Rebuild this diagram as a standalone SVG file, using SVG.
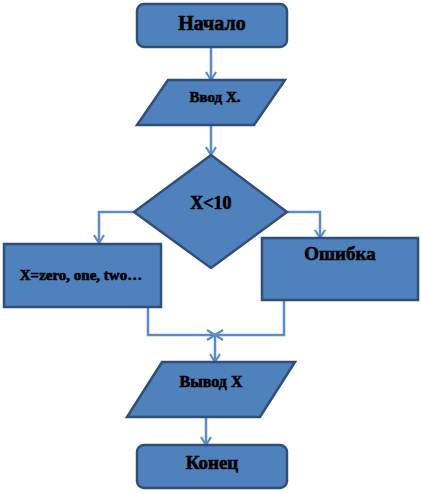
<svg xmlns="http://www.w3.org/2000/svg" width="421" height="493" viewBox="0 0 421 493">
<defs>
<style>
.node{fill:#4F81BD;stroke:#2F4F78;stroke-width:2.5}
.t{font-family:"Liberation Serif","Times New Roman",serif;font-weight:bold;fill:#000;stroke:#000;stroke-width:0.6;text-anchor:middle}
.c{fill:none;stroke:#5B8BC9;stroke-width:2.5}
</style>
<marker id="a" markerUnits="userSpaceOnUse" viewBox="0 0 10 12" markerWidth="10" markerHeight="12" refX="9" refY="6" orient="auto">
<path d="M1,1 L9,6 L1,11" fill="none" stroke="#5B8BC9" stroke-width="2.2"/>
</marker>
</defs>
<rect width="421" height="493" fill="#fff"/>
<g id="connectors">
<path class="c" d="M211,47 V80" marker-end="url(#a)"/>
<path class="c" d="M211,125 V155" marker-end="url(#a)"/>
<path class="c" d="M134,212 H99 V243" marker-end="url(#a)"/>
<path class="c" d="M286,212 H320 V238" marker-end="url(#a)"/>
<path class="c" d="M148,307 V335 H215" marker-end="url(#a)"/>
<path class="c" d="M284,300 V335 H215" marker-end="url(#a)"/>
<path class="c" d="M215,335 V362" marker-end="url(#a)"/>
<path class="c" d="M206,417 V445" marker-end="url(#a)"/>
</g>
<g id="start">
<rect class="node" x="137" y="4" width="150" height="43" rx="7"/>
<text class="t" x="212" y="30" font-size="20">Начало</text>
</g>
<g id="input">
<polygon class="node" points="168,80 285,80 254,125 137,125"/>
<text class="t" x="215" y="102" font-size="15">Ввод X.</text>
</g>
<g id="decision">
<polygon class="node" points="211,155 287,212 211,268 134,212"/>
<text class="t" x="211" y="209" font-size="18">X&lt;10</text>
</g>
<g id="assign">
<rect class="node" x="4" y="244" width="157" height="63"/>
<text class="t" x="81" y="280" font-size="15">X=zero, one, two…</text>
</g>
<g id="error">
<rect class="node" x="262" y="238" width="156" height="62"/>
<text class="t" x="340" y="260" font-size="19">Ошибка</text>
</g>
<g id="output">
<polygon class="node" points="162,362 295,362 260,417 127,417"/>
<text class="t" x="211" y="387" font-size="16">Вывод X</text>
</g>
<g id="end">
<rect class="node" x="137" y="445" width="150" height="43" rx="7"/>
<text class="t" x="212" y="469" font-size="19">Конец</text>
</g>
</svg>
